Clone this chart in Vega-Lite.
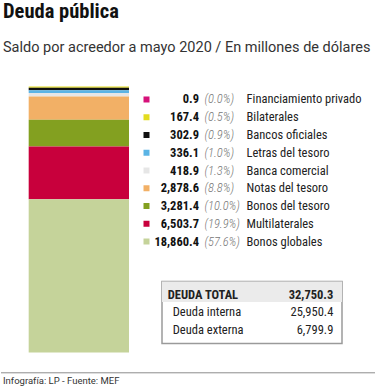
{
  "$schema": "https://vega.github.io/schema/vega-lite/v6.json",
  "padding": {"left": 0, "top": 1.5, "right": 0, "bottom": 0},
  "autosize": {"type": "pad"},
  "background": "white",
  "config": {"view": {"stroke": null}},
  "title": {
    "text": "Deuda pública",
    "subtitle": "Saldo por acreedor a mayo 2020 / En millones de dólares",
    "anchor": "start",
    "frame": "group",
    "dx": 2,
    "font": "Roboto Condensed, Liberation Sans Narrow, Roboto, sans-serif",
    "fontSize": 20.5,
    "fontWeight": "bold",
    "color": "#111111",
    "subtitleFont": "Roboto, sans-serif",
    "subtitleFontSize": 14.5,
    "subtitleColor": "#333333",
    "subtitlePadding": 18,
    "offset": 32.5
  },
  "datasets": {
    "deuda": [
      {"acreedor": "Financiamiento privado", "monto": 0.9, "porcentaje": 0.0, "orden": 9},
      {"acreedor": "Bilaterales", "monto": 167.4, "porcentaje": 0.5, "orden": 8},
      {"acreedor": "Bancos oficiales", "monto": 302.9, "porcentaje": 0.9, "orden": 7},
      {"acreedor": "Letras del tesoro", "monto": 336.1, "porcentaje": 1.0, "orden": 6},
      {"acreedor": "Banca comercial", "monto": 418.9, "porcentaje": 1.3, "orden": 5},
      {"acreedor": "Notas del tesoro", "monto": 2878.6, "porcentaje": 8.8, "orden": 4},
      {"acreedor": "Bonos del tesoro", "monto": 3281.4, "porcentaje": 10.0, "orden": 3},
      {"acreedor": "Multilaterales", "monto": 6503.7, "porcentaje": 19.9, "orden": 2},
      {"acreedor": "Bonos globales", "monto": 18860.4, "porcentaje": 57.6, "orden": 1}
    ],
    "totales": [
      {"concepto": "DEUDA TOTAL", "monto": 32750.3, "tipo": "total"},
      {"concepto": "Deuda interna", "monto": 25950.4, "tipo": "detalle"},
      {"concepto": "Deuda externa", "monto": 6799.9, "tipo": "detalle"}
    ]
  },
  "vconcat": [
    {
      "hconcat": [
        {
          "width": 128,
          "height": 266,
          "data": {"name": "deuda"},
          "mark": {"type": "bar"},
          "encoding": {
            "x": {"datum": "Deuda pública", "type": "nominal", "axis": null,
                  "scale": {"paddingInner": 0, "paddingOuter": 0.138, "align": 1}},
            "y": {"field": "monto", "type": "quantitative", "stack": "zero", "axis": null,
                  "scale": {"nice": false}},
            "color": {"field": "acreedor", "type": "nominal", "legend": null,
                      "scale": {
                        "domain": ["Financiamiento privado", "Bilaterales", "Bancos oficiales", "Letras del tesoro", "Banca comercial", "Notas del tesoro", "Bonos del tesoro", "Multilaterales", "Bonos globales"],
                        "range": ["#d6117a", "#e3dc1f", "#111111", "#5bb4e5", "#e6e6e6", "#f2b066", "#83a020", "#c8003c", "#c5d39a"]}},
            "order": {"field": "orden", "type": "quantitative", "sort": "ascending"}
          }
        },
        {
          "vconcat": [
            {
              "width": 180,
              "height": 168,
              "data": {"name": "deuda"},
              "encoding": {
                "y": {"field": "acreedor", "type": "nominal", "axis": null,
                      "sort": ["Financiamiento privado", "Bilaterales", "Bancos oficiales", "Letras del tesoro", "Banca comercial", "Notas del tesoro", "Bonos del tesoro", "Multilaterales", "Bonos globales"],
                      "scale": {"type": "point", "padding": 0.732}}
              },
              "layer": [
                {
                  "mark": {"type": "point", "shape": "square", "filled": true, "size": 36, "opacity": 1, "xOffset": -105.5},
                  "encoding": {
                    "color": {"field": "acreedor", "type": "nominal", "legend": null,
                              "scale": {
                                "domain": ["Financiamiento privado", "Bilaterales", "Bancos oficiales", "Letras del tesoro", "Banca comercial", "Notas del tesoro", "Bonos del tesoro", "Multilaterales", "Bonos globales"],
                                "range": ["#d6117a", "#e3dc1f", "#111111", "#5bb4e5", "#e6e6e6", "#f2b066", "#83a020", "#c8003c", "#c5d39a"]}}
                  }
                },
                {
                  "mark": {"type": "text", "align": "right", "baseline": "middle", "dx": -53,
                           "font": "Roboto Condensed, Liberation Sans Narrow, Roboto, sans-serif",
                           "fontSize": 12.5, "fontWeight": "bold", "color": "#111111"},
                  "encoding": {"text": {"field": "monto", "type": "quantitative", "format": ",.1f"}}
                },
                {
                  "mark": {"type": "text", "align": "left", "baseline": "middle", "dx": -47.5,
                           "font": "Roboto Condensed, Liberation Sans Narrow, Roboto, sans-serif",
                           "fontSize": 12.5, "fontStyle": "italic", "fontWeight": 300, "color": "#777777",
                           "text": {"expr": "'(' + format(datum.porcentaje, '.1f') + '%)'"}}
                },
                {
                  "mark": {"type": "text", "align": "left", "baseline": "middle", "dx": -5.5,
                           "font": "Roboto Condensed, Liberation Sans Narrow, Roboto, sans-serif",
                           "fontSize": 12.5, "color": "#222222"},
                  "encoding": {"text": {"field": "acreedor", "type": "nominal"}}
                }
              ]
            },
            {
              "width": 180,
              "height": 62,
              "view": {"stroke": "#9a9a9a", "strokeWidth": 1.5},
              "data": {"name": "totales"},
              "layer": [
                {
                  "transform": [{"filter": "datum.tipo === 'total'"}],
                  "mark": {"type": "rect", "color": "#ebebeb"},
                  "encoding": {
                    "y": {"field": "concepto", "type": "nominal", "axis": null,
                          "scale": {"domain": ["DEUDA TOTAL", "Deuda interna", "Deuda externa"], "paddingInner": 0, "paddingOuter": 0}}
                  }
                },
                {
                  "mark": {"type": "text", "align": "left", "baseline": "middle",
                           "dx": {"expr": "datum.tipo === 'total' ? -84.3 : -79.3"},
                           "fontWeight": {"expr": "datum.tipo === 'total' ? 'bold' : 'normal'"},
                           "font": "Roboto Condensed, Liberation Sans Narrow, Roboto, sans-serif",
                           "fontSize": 12.5, "color": "#222222"},
                  "encoding": {
                    "y": {"field": "concepto", "type": "nominal", "axis": null,
                          "scale": {"type": "point", "domain": ["DEUDA TOTAL", "Deuda interna", "Deuda externa"], "padding": 0.761}},
                    "text": {"field": "concepto", "type": "nominal"}
                  }
                },
                {
                  "mark": {"type": "text", "align": "right", "baseline": "middle", "dx": 81.3,
                           "fontWeight": {"expr": "datum.tipo === 'total' ? 'bold' : 'normal'"},
                           "font": "Roboto Condensed, Liberation Sans Narrow, Roboto, sans-serif",
                           "fontSize": 12.5, "color": "#222222"},
                  "encoding": {
                    "y": {"field": "concepto", "type": "nominal", "axis": null,
                          "scale": {"type": "point", "domain": ["DEUDA TOTAL", "Deuda interna", "Deuda externa"], "padding": 0.761}},
                    "text": {"field": "monto", "type": "quantitative", "format": ",.1f"}
                  }
                }
              ],
              "resolve": {"scale": {"y": "independent"}}
            }
          ],
          "spacing": 26.9,
          "bounds": "flush"
        }
      ],
      "spacing": 33,
      "bounds": "flush"
    },
    {
      "width": 375,
      "height": 15.4,
      "layer": [
        {
          "data": {"values": [{}]},
          "mark": {"type": "rule", "color": "#8c8c8c", "strokeWidth": 1},
          "encoding": {"y": {"datum": 1, "type": "quantitative", "axis": null, "scale": {"domain": [0, 1]}}}
        },
        {
          "data": {"values": [{"fuente": "Infografía: LP - Fuente: MEF"}]},
          "mark": {"type": "text", "align": "left", "baseline": "middle", "dx": -185.5,
                   "font": "Roboto, sans-serif", "fontSize": 9.5, "color": "#333333"},
          "encoding": {"text": {"field": "fuente", "type": "nominal"}}
        }
      ]
    }
  ],
  "spacing": 19.3
}
